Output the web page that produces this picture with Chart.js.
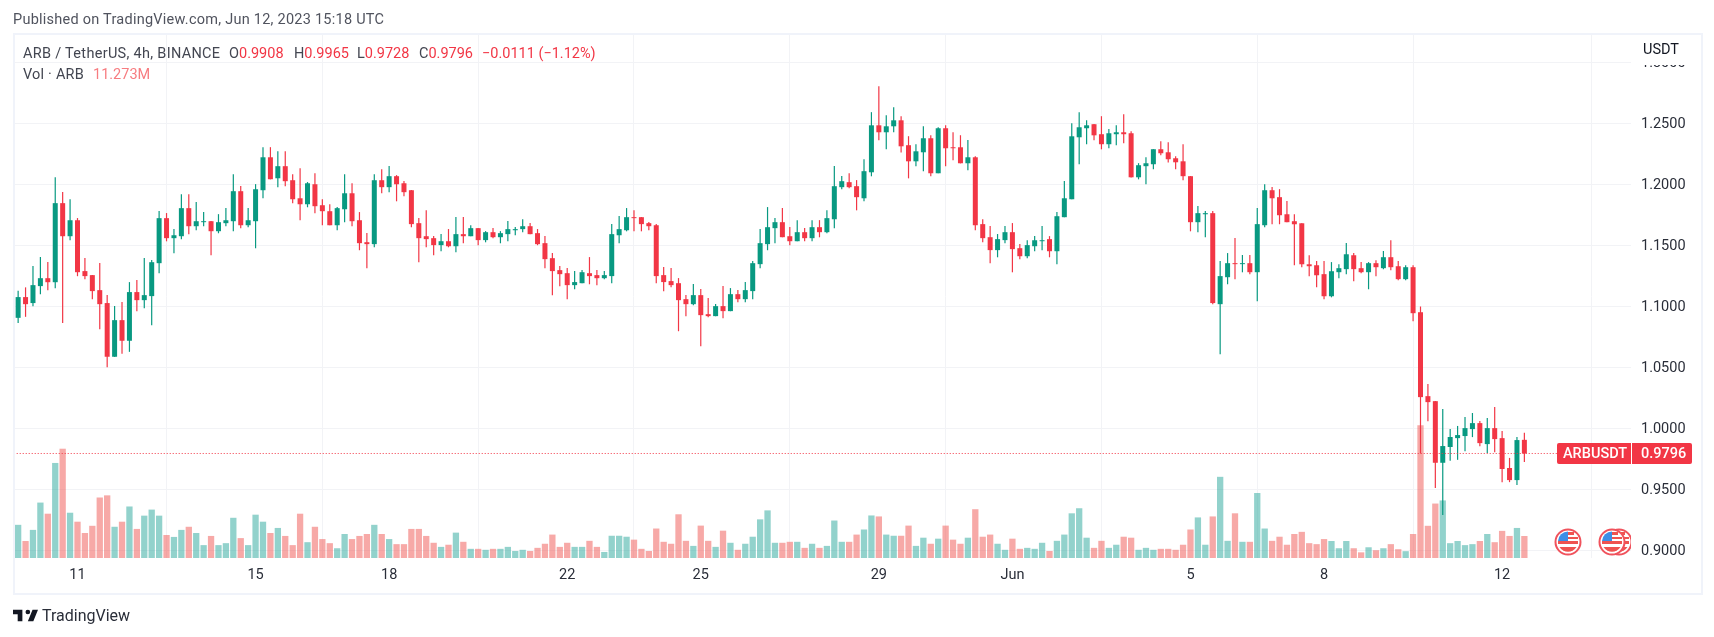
<!DOCTYPE html>
<html><head><meta charset="utf-8">
<script src="https://cdn.jsdelivr.net/npm/chart.js@4"></script>
<style>
html,body{margin:0;padding:0;background:#fff;width:1714px;height:637px;overflow:hidden}
canvas{position:absolute;left:0;top:0}
.t{position:absolute;white-space:pre;font-family:Roboto,sans-serif;font-size:14.5px;line-height:18px;color:#434651}
.r{color:#f23645}
#frame{position:absolute;left:13px;top:33px;width:1686px;height:558px;border:2px solid #f0f3fa;pointer-events:none}
#cover{position:absolute;left:1632px;top:35px;width:67px;height:30px;background:#fff}
#tag{position:absolute;left:1557px;top:443px;width:135px;height:21px;background:#f23645;border-radius:2px;color:#fff}
#tag i{position:absolute;left:73.5px;top:0;width:1px;height:21px;background:#fff}
#flags{position:absolute;left:1550px;top:525px;width:81px;height:34px;overflow:hidden}
</style></head><body>
<canvas id="c" width="1714" height="637"></canvas>
<div id="frame"></div><div id="cover"></div>
<div class="t" style="left:13px;top:11px;color:#50535e;letter-spacing:.25px">Published on TradingView.com, Jun 12, 2023 15:18 UTC</div>
<div class="t" style="left:23px;top:45px;letter-spacing:.3px">ARB / TetherUS, 4h, BINANCE</div>
<div class="t" style="left:229px;top:45px">O<span class="r">0.9908</span></div>
<div class="t" style="left:294px;top:45px">H<span class="r">0.9965</span></div>
<div class="t" style="left:357px;top:45px">L<span class="r">0.9728</span></div>
<div class="t" style="left:419px;top:45px">C<span class="r">0.9796</span></div>
<div class="t r" style="left:482px;top:45px">−0.0111 (−1.12%)</div>
<div class="t" style="left:23px;top:66px;letter-spacing:.2px">Vol · ARB</div>
<div class="t" style="left:93px;top:66px;color:#f77c80">11.273M</div>
<div class="t" style="left:1643px;top:41px;color:#131722">USDT</div>
<div id="tag"><i></i></div>
<div class="t" style="left:1563px;top:445px;color:#fff;font-weight:500">ARBUSDT</div>
<div class="t" style="left:1641px;top:445px;color:#fff;font-weight:500">0.9796</div>
<svg style="position:absolute;left:13px;top:609px" width="25" height="13" viewBox="2 6 32 15"><path fill="#131722" d="M14 6H2v6h6v9h6V6Zm14 15h-7l6-15h7l-6 15Zm-7-9a3 3 0 1 0 0-6 3 3 0 0 0 0 6Z"/></svg>
<div class="t" style="left:42px;top:606px;font-size:16px;line-height:20px;color:#2a2e39">TradingView</div>
<div id="flags"><svg width="81" height="34" viewBox="0 0 81 34">
<defs><g id="f"><circle r="12.5" fill="#fff" stroke="#f0525c" stroke-width="2"/><path d="M-10 0H10A10 10 0 0 1 -10 0Z" fill="#fff"/><rect x="-10" y="-1" width="20" height="3" fill="#ef5350"/><path d="M-8.5 5H8.5A10 10 0 0 1 -8.5 5Z" fill="#ef5350"/><path d="M-10 -1A10 10 0 0 1 0 -10.5V-1Z" fill="#3d8ee6"/><path d="M0 -10H6V-7H0ZM0 -5H10V-3H0Z" fill="#ef5350"/></g></defs>
<use href="#f" x="18" y="17"/><use href="#f" x="69" y="17"/><use href="#f" x="62" y="17"/>
</svg></div>
<script>
const dayTicks=[8,32,50,74,92,116,134,158,176,200];
const dayLabels=['11','15','18','22','25','29','Jun','5','8','12'];
const priceTicks=[1.30,1.25,1.20,1.15,1.10,1.05,1.00,0.95,0.90];
const opens=[1.0908,1.1078,1.1029,1.1168,1.1233,1.1200,1.1848,1.1577,1.1708,1.1291,
1.1258,1.1135,1.1029,1.0589,1.0889,1.0720,1.1119,1.1053,1.1086,1.1356,
1.1725,1.1561,1.1577,1.1807,1.1659,1.1692,1.1700,1.1618,1.1684,1.1700,
1.1946,1.1667,1.1700,1.1954,1.2224,1.2052,1.2151,1.2036,1.1888,1.1839,
1.2003,1.1831,1.1782,1.1667,1.1798,1.1929,1.1708,1.1528,1.1512,1.2036,
1.1979,1.2069,1.2011,1.1954,1.1684,1.1577,1.1561,1.1504,1.1536,1.1495,
1.1594,1.1577,1.1643,1.1545,1.1610,1.1569,1.1594,1.1626,1.1635,1.1659,
1.1602,1.1520,1.1397,1.1299,1.1274,1.1176,1.1192,1.1274,1.1258,1.1233,
1.1250,1.1585,1.1626,1.1733,1.1733,1.1684,1.1667,1.1258,1.1209,1.1192,
1.1061,1.1020,1.1094,1.0938,1.0922,1.1004,1.0963,1.1102,1.1061,1.1127,
1.1348,1.1512,1.1643,1.1692,1.1577,1.1536,1.1610,1.1561,1.1651,1.1610,
1.1716,1.1979,1.2020,1.1987,1.1888,1.2101,1.2486,1.2429,1.2478,1.2527,
1.2323,1.2191,1.2265,1.2380,1.2093,1.2462,1.2306,1.2306,1.2175,1.2224,
1.1676,1.1569,1.1463,1.1545,1.1610,1.1479,1.1413,1.1495,1.1536,1.1553,
1.1454,1.1733,1.1880,1.2388,1.2462,1.2495,1.2413,1.2331,1.2413,1.2429,
1.2421,1.2060,1.2151,1.2167,1.2290,1.2265,1.2216,1.2191,1.2069,1.1692,
1.1757,1.1766,1.1020,1.1241,1.1356,1.1348,1.1356,1.1282,1.1667,1.1954,
1.1897,1.1757,1.1700,1.1683,1.1347,1.1339,1.1266,1.1085,1.1282,1.1307,
1.1421,1.1315,1.1282,1.1356,1.1315,1.1405,1.1331,1.1225,1.1323,1.0954,
1.0266,1.0225,0.9720,0.9849,0.9922,0.9939,0.9996,1.0045,0.9873,1.0004,
0.9922,0.9677,0.9578,0.9908];
const closes=[1.1078,1.1020,1.1176,1.1233,1.1200,1.1848,1.1577,1.1708,1.1282,1.1250,
1.1127,1.1020,1.0589,1.0889,1.0720,1.1119,1.1053,1.1094,1.1364,1.1725,
1.1561,1.1585,1.1807,1.1659,1.1700,1.1700,1.1618,1.1692,1.1708,1.1946,
1.1667,1.1708,1.1962,1.2224,1.2044,1.2151,1.2028,1.1880,1.1839,1.2011,
1.1823,1.1782,1.1667,1.1807,1.1929,1.1700,1.1520,1.1512,1.2036,1.1979,
1.2069,1.2003,1.1938,1.1676,1.1561,1.1553,1.1504,1.1536,1.1495,1.1594,
1.1577,1.1643,1.1545,1.1610,1.1569,1.1602,1.1635,1.1635,1.1659,1.1594,
1.1512,1.1389,1.1291,1.1266,1.1176,1.1201,1.1282,1.1250,1.1233,1.1258,
1.1594,1.1635,1.1733,1.1725,1.1676,1.1659,1.1250,1.1201,1.1176,1.1053,
1.1020,1.1094,1.0930,1.0922,1.1004,1.0963,1.1102,1.1061,1.1135,1.1356,
1.1520,1.1651,1.1692,1.1569,1.1536,1.1610,1.1561,1.1651,1.1610,1.1725,
1.1987,1.2028,1.1979,1.1897,1.2110,1.2486,1.2429,1.2478,1.2527,1.2314,
1.2191,1.2273,1.2380,1.2093,1.2462,1.2298,1.2298,1.2175,1.2224,1.1667,
1.1561,1.1463,1.1553,1.1610,1.1471,1.1413,1.1504,1.1544,1.1544,1.1454,
1.1741,1.1888,1.2396,1.2470,1.2486,1.2404,1.2331,1.2421,1.2429,1.2413,
1.2060,1.2159,1.2175,1.2290,1.2257,1.2208,1.2183,1.2069,1.1692,1.1766,
1.1766,1.1029,1.1250,1.1356,1.1348,1.1356,1.1282,1.1676,1.1954,1.1888,
1.1749,1.1692,1.1675,1.1347,1.1331,1.1257,1.1085,1.1290,1.1315,1.1429,
1.1307,1.1282,1.1356,1.1323,1.1405,1.1323,1.1225,1.1323,1.0946,1.0258,
1.0217,0.9720,0.9857,0.9931,0.9947,1.0004,1.0045,0.9881,1.0004,0.9914,
0.9669,0.9578,0.9906,0.9796];
const highs=[1.1130,1.1157,1.1332,1.1405,1.1364,1.2060,1.1938,1.1880,1.1725,1.1397,
1.1258,1.1356,1.1094,1.1004,1.1037,1.1200,1.1217,1.1397,1.1381,1.1782,
1.1766,1.1635,1.1921,1.1921,1.1856,1.1774,1.1700,1.1757,1.1807,1.2085,
1.1987,1.1807,1.2003,1.2306,1.2306,1.2273,1.2273,1.2085,1.2134,1.2020,
1.2093,1.1880,1.1839,1.1815,1.2085,1.2011,1.1774,1.1602,1.2085,1.2126,
1.2151,1.2077,1.2028,1.1954,1.1725,1.1790,1.1577,1.1594,1.1635,1.1733,
1.1733,1.1667,1.1643,1.1618,1.1643,1.1618,1.1700,1.1651,1.1716,1.1684,
1.1635,1.1577,1.1438,1.1332,1.1315,1.1291,1.1299,1.1405,1.1299,1.1291,
1.1676,1.1741,1.1807,1.1790,1.1733,1.1692,1.1676,1.1323,1.1315,1.1233,
1.1094,1.1184,1.1143,1.1069,1.1020,1.1168,1.1151,1.1135,1.1201,1.1373,
1.1635,1.1815,1.1725,1.1807,1.1651,1.1708,1.1643,1.1708,1.1708,1.1790,
1.2151,1.2069,1.2093,1.2036,1.2208,1.2593,1.2806,1.2568,1.2634,1.2560,
1.2396,1.2331,1.2478,1.2404,1.2470,1.2486,1.2429,1.2404,1.2364,1.2232,
1.1716,1.1659,1.1594,1.1659,1.1684,1.1512,1.1544,1.1577,1.1659,1.1577,
1.1774,1.2028,1.2503,1.2593,1.2527,1.2495,1.2560,1.2454,1.2486,1.2576,
1.2437,1.2175,1.2224,1.2290,1.2355,1.2347,1.2232,1.2331,1.2069,1.1823,
1.1782,1.1782,1.1373,1.1438,1.1561,1.1422,1.1422,1.1807,1.2003,1.1979,
1.1962,1.1864,1.1757,1.1683,1.1421,1.1372,1.1372,1.1364,1.1347,1.1520,
1.1438,1.1364,1.1364,1.1380,1.1454,1.1544,1.1372,1.1339,1.1339,1.1000,
1.0365,1.0225,1.0160,0.9996,1.0021,1.0094,1.0127,1.0062,1.0086,1.0176,
0.9980,0.9759,0.9931,0.9965];
const lows=[1.0867,1.0917,1.1004,1.1102,1.1135,1.1151,1.0867,1.1545,1.1250,1.1225,
1.1061,1.0816,1.0504,1.0589,1.0614,1.0630,1.0963,1.0988,1.0848,1.1274,
1.1536,1.1438,1.1553,1.1594,1.1626,1.1659,1.1422,1.1602,1.1659,1.1618,
1.1643,1.1651,1.1479,1.1888,1.2044,1.1979,1.1987,1.1848,1.1708,1.1815,
1.1766,1.1667,1.1667,1.1626,1.1692,1.1659,1.1463,1.1315,1.1487,1.1929,
1.1938,1.1864,1.1905,1.1651,1.1364,1.1487,1.1422,1.1454,1.1487,1.1446,
1.1520,1.1577,1.1504,1.1528,1.1561,1.1520,1.1536,1.1585,1.1610,1.1594,
1.1504,1.1315,1.1094,1.1168,1.1061,1.1143,1.1192,1.1184,1.1176,1.1225,
1.1192,1.1520,1.1618,1.1618,1.1618,1.1626,1.1192,1.1127,1.1160,1.0799,
1.0922,1.1012,1.0676,1.0914,1.0922,1.0906,1.0963,1.1037,1.1037,1.1061,
1.1315,1.1463,1.1520,1.1569,1.1504,1.1536,1.1536,1.1536,1.1569,1.1602,
1.1643,1.1962,1.1970,1.1790,1.1864,1.2069,1.2364,1.2290,1.2429,1.2265,
1.2052,1.2151,1.2110,1.2069,1.2093,1.2151,1.2200,1.2175,1.2118,1.1626,
1.1528,1.1356,1.1405,1.1520,1.1282,1.1389,1.1397,1.1454,1.1463,1.1405,
1.1348,1.1733,1.1880,1.2167,1.2331,1.2364,1.2290,1.2298,1.2323,1.2339,
1.2060,1.2044,1.2003,1.2126,1.2241,1.2183,1.2126,1.2036,1.1618,1.1610,
1.1569,1.1020,1.0611,1.1184,1.1225,1.1282,1.1266,1.1045,1.1651,1.1676,
1.1676,1.1692,1.1339,1.1323,1.1249,1.1159,1.1061,1.1077,1.1233,1.1266,
1.1208,1.1274,1.1143,1.1249,1.1307,1.1298,1.1216,1.1216,1.0881,0.9797,
1.0062,0.9513,0.9292,0.9737,0.9745,0.9816,0.9931,0.9857,0.9800,0.9808,
0.9562,0.9562,0.9538,0.9728];
const volumes=[17.0,8.7,14.4,28.4,22.7,48.7,56.0,23.2,18.6,12.8,
16.5,31.0,32.1,16.0,18.6,26.4,14.9,21.7,24.8,21.7,
11.8,10.8,14.4,16.0,12.8,6.6,11.3,6.6,7.6,20.6,
10.2,6.6,22.2,18.6,12.8,15.4,11.3,6.6,22.7,8.1,
16.0,9.7,7.6,5.0,12.3,9.7,11.3,12.3,17.0,12.3,
9.7,7.1,7.1,14.9,14.9,11.3,7.8,5.7,6.8,13.0,
8.3,4.7,4.7,4.2,4.7,4.7,5.7,3.6,4.2,3.6,
5.2,7.3,12.0,5.7,7.8,5.7,5.7,8.8,5.7,3.1,
11.4,11.4,10.9,9.4,4.7,3.6,15.1,8.3,7.3,22.4,
8.8,6.2,16.6,8.8,5.7,14.0,7.8,4.2,7.3,10.9,
19.8,24.4,7.8,7.8,8.3,8.3,5.2,7.3,5.2,6.2,
19.2,8.3,8.3,12.0,14.6,21.8,21.3,12.0,11.4,11.4,
16.6,6.2,10.4,7.3,9.9,16.6,9.4,7.3,10.4,25.0,
10.9,12.0,7.3,4.2,9.9,4.7,5.2,4.7,7.8,3.6,
8.8,12.0,22.9,25.5,10.4,5.2,8.8,5.2,6.8,10.9,
10.4,4.2,5.2,4.2,4.7,4.7,4.2,6.8,14.6,20.8,
6.8,21.3,41.6,8.8,22.9,8.3,8.3,33.3,15.1,8.8,
10.9,6.8,12.3,13.4,7.6,7.1,9.7,8.7,5.0,8.7,
5.0,2.9,5.5,4.0,5.0,7.1,4.5,3.5,12.3,68.0,
16.5,27.9,29.5,7.6,8.7,6.6,7.1,8.7,12.3,8.1,
13.9,11.3,15.4,11.273];

const UP='#089981',DOWN='#f23645',VUP='rgba(38,166,154,.5)',VDOWN='rgba(239,83,80,.5)';
const isUp=closes.map((c,i)=>c>=opens[i]);
new Chart(document.getElementById('c'),{
 type:'bar',
 data:{datasets:[
  {type:'line',order:0,xAxisID:'x',yAxisID:'y',data:[{x:-1,y:closes[203]},{x:218,y:closes[203]}],
   borderColor:DOWN,borderWidth:1,borderDash:[1,2],pointRadius:0,fill:false},
  {order:1,xAxisID:'x',yAxisID:'y',data:opens.map((o,i)=>({x:i,y:[o,closes[i]]})),
   backgroundColor:isUp.map(u=>u?UP:DOWN),barThickness:5,minBarLength:1,inflateAmount:0},
  {order:2,xAxisID:'x',yAxisID:'y',data:lows.map((l,i)=>({x:i,y:[l,highs[i]]})),
   backgroundColor:isUp.map(u=>u?UP:DOWN),barThickness:1,inflateAmount:0.1},
  {order:3,xAxisID:'x',yAxisID:'yVol',data:volumes.map((v,i)=>({x:i,y:v})),
   backgroundColor:isUp.map(u=>u?VUP:VDOWN),barThickness:6.3,inflateAmount:0}
 ]},
 options:{
  responsive:false,animation:false,devicePixelRatio:1,
  layout:{padding:{left:15,right:15,top:35,bottom:45}},
  datasets:{bar:{grouped:false,borderWidth:0}},
  plugins:{legend:{display:false},tooltip:{enabled:false}},
  scales:{
   x:{type:'linear',min:-0.423,max:217.37,offset:false,
    afterBuildTicks:s=>{s.ticks=dayTicks.map(v=>({value:v}));},
    afterFit:s=>{s.height=34;},
    grid:{color:'#f2f3f6',drawTicks:false},border:{display:false},
    ticks:{autoSkip:false,maxRotation:0,padding:9,color:'#2a2e39',font:{family:'Roboto',size:14.5},
     callback:v=>dayLabels[dayTicks.indexOf(v)]??''}},
   y:{type:'linear',position:'right',min:0.89394,max:1.32263,
    afterBuildTicks:s=>{s.ticks=priceTicks.map(v=>({value:v}));},
    afterFit:s=>{s.width=68;},
    grid:{color:'#f2f3f6',drawTicks:false},border:{display:false},
    ticks:{padding:10,align:'center',labelOffset:1,color:'#2a2e39',font:{family:'Roboto',size:14.5},callback:v=>v.toFixed(4)}},
   yVol:{type:'linear',display:false,min:0,max:268,grid:{display:false}}
  }
 }
});
</script>
</body></html>
